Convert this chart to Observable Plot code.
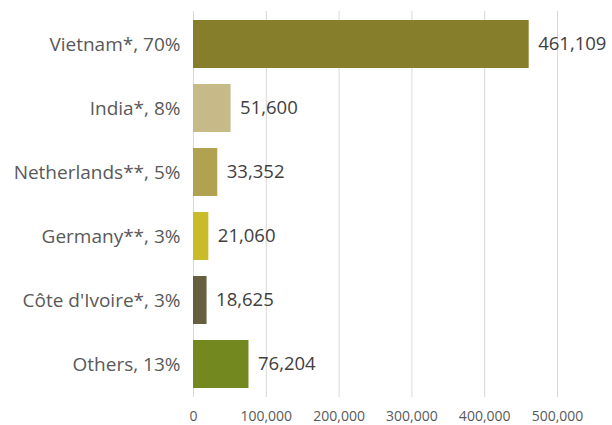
<!DOCTYPE html>
<html>
<head>
<meta charset="utf-8">
<script src="https://cdn.jsdelivr.net/npm/d3@7"></script>
<script src="https://cdn.jsdelivr.net/npm/@observablehq/plot@0.6"></script>
<style>
  html, body { margin: 0; padding: 0; background: #fff; }
  #chart svg { display: block; overflow: visible; }
</style>
</head>
<body>
<div id="chart"></div>
<script>
const categories = ["Vietnam*, 70%", "India*, 8%", "Netherlands**, 5%", "Germany**, 3%", "Côte d'Ivoire*, 3%", "Others, 13%"];
const values = [461109, 51600, 33352, 21060, 18625, 76204];
const colors = ["#877E2C", "#C5BA88", "#B1A252", "#C9BC28", "#676040", "#73891F"];
const xTicks = [0, 100000, 200000, 300000, 400000, 500000];

const data = categories.map((c, i) => ({category: c, value: values[i], color: colors[i]}));
const fmt = d3.format(",");
const font = "'Open Sans', sans-serif";

const chart = Plot.plot({
  width: 612,
  height: 425,
  marginLeft: 193,
  marginRight: 55,
  marginTop: 11,
  marginBottom: 28,
  style: {fontFamily: font, background: "#fff"},
  x: {domain: [0, 500000], ticks: xTicks},
  y: {domain: categories, paddingInner: 0.246, paddingOuter: 0.123},
  marks: [
    Plot.ruleX(xTicks, {stroke: "#d9d9d9", strokeWidth: 1}),
    Plot.barX(data, {y: "category", x: "value", fill: "color"}),
    Plot.text(data, {y: "category", x: "value", text: d => fmt(d.value), dx: 9, textAnchor: "start", fill: "#404040", fontSize: 18.5}),
    Plot.axisY({tickSize: 0, tickPadding: 13, fontSize: 19, color: "#595959", label: null}),
    Plot.axisX({ticks: xTicks, tickFormat: fmt, tickSize: 0, tickPadding: 14, fontSize: 14, color: "#595959", label: null})
  ]
});
document.getElementById("chart").appendChild(chart);
</script>
</body>
</html>
